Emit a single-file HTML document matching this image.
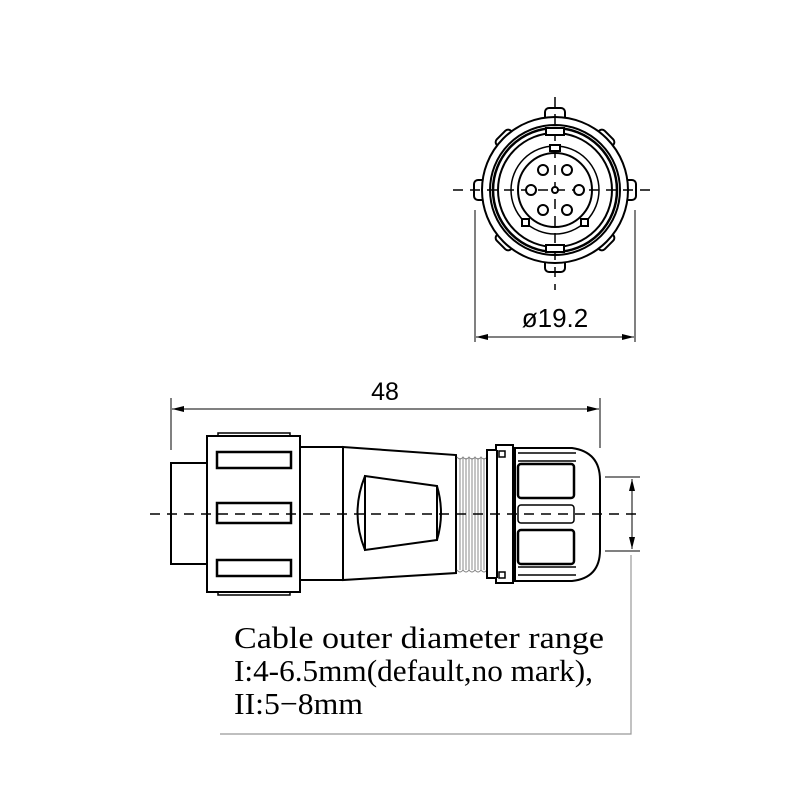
<!DOCTYPE html>
<html><head><meta charset="utf-8"><style>html,body{margin:0;padding:0;background:#fff}svg{display:block}</style></head>
<body>
<svg width="800" height="800" viewBox="0 0 800 800" xmlns="http://www.w3.org/2000/svg">
<defs>
<marker id="ar" viewBox="0 0 12 6" refX="12" refY="3" markerWidth="12" markerHeight="6" orient="auto-start-reverse" markerUnits="userSpaceOnUse"><path d="M0,0 L12,3 L0,6 Z" fill="#000"/></marker>
</defs>
<g fill="none" stroke="#000" stroke-width="2">
<!-- top view -->
<g fill="#fff">
<rect x="545" y="108" width="20" height="14" rx="4"/>
<rect x="545" y="258" width="20" height="14" rx="4"/>
<rect x="474" y="180" width="14" height="20" rx="4"/>
<rect x="622" y="180" width="14" height="20" rx="4"/>
<rect x="496" y="133" width="20" height="14" rx="4" transform="rotate(-45 506 140)"/>
<rect x="594" y="133" width="20" height="14" rx="4" transform="rotate(45 604 140)"/>
<rect x="496" y="233" width="20" height="14" rx="4" transform="rotate(45 506 240)"/>
<rect x="594" y="233" width="20" height="14" rx="4" transform="rotate(-45 604 240)"/>
</g>
<circle cx="555" cy="190" r="73" fill="#fff"/>
<circle cx="555" cy="190" r="65"/>
<circle cx="555" cy="190" r="62" stroke-width="2.5"/>
<circle cx="555" cy="190" r="57"/>
<circle cx="555" cy="190" r="44" stroke-width="1.5"/>
<circle cx="555" cy="190" r="37"/>
<line x1="555" y1="97" x2="555" y2="290" stroke-width="1.5" stroke-dasharray="10,7"/>
<line x1="453" y1="190" x2="650" y2="190" stroke-width="1.5" stroke-dasharray="10,7"/>
<rect x="546" y="128" width="18" height="7" fill="#fff"/>
<rect x="546" y="245" width="18" height="7" fill="#fff"/>
<rect x="550" y="145" width="10" height="6" fill="#fff"/>
<rect x="522" y="219" width="7" height="7" fill="#fff"/>
<rect x="581" y="219" width="7" height="7" fill="#fff"/>
<circle cx="543" cy="170" r="5" fill="#fff"/><circle cx="567" cy="170" r="5" fill="#fff"/>
<circle cx="531" cy="190" r="5" fill="#fff"/><circle cx="579" cy="190" r="5" fill="#fff"/>
<circle cx="543" cy="210" r="5" fill="#fff"/><circle cx="567" cy="210" r="5" fill="#fff"/>
<circle cx="555" cy="190" r="3" fill="#fff"/>
<line x1="475" y1="210" x2="475" y2="342" stroke-width="1"/>
<line x1="635" y1="210" x2="635" y2="342" stroke-width="1"/>
<line x1="476" y1="337" x2="634" y2="337" stroke-width="1" marker-start="url(#ar)" marker-end="url(#ar)"/>

<!-- side view dims -->
<line x1="171" y1="398" x2="171" y2="450" stroke-width="1"/>
<line x1="600" y1="398" x2="600" y2="448" stroke-width="1"/>
<line x1="172" y1="409" x2="599" y2="409" stroke-width="1" marker-start="url(#ar)" marker-end="url(#ar)"/>

<!-- front cap -->
<rect x="171" y="463" width="36" height="101" fill="#fff"/>
<rect x="218" y="433" width="72" height="4" fill="#fff" stroke-width="1.5"/>
<rect x="218" y="591" width="72" height="4" fill="#fff" stroke-width="1.5"/>
<rect x="207" y="436" width="93" height="156" fill="#fff"/>
<rect x="217" y="452" width="74" height="16" stroke-width="2.5"/>
<rect x="217" y="503" width="74" height="20" stroke-width="2.5"/>
<rect x="217" y="560" width="74" height="16" stroke-width="2.5"/>
<!-- body -->
<rect x="300" y="447" width="43" height="133" fill="#fff"/>
<path d="M343,447 L456,455 L456,573 L343,580 Z" fill="#fff"/>
<path d="M365,476 L437,486 L437,540 L365,550 Z" fill="#fff"/>
<path d="M365,476 Q350,513 365,550"/>
<path d="M437,486 Q445,513 437,540"/>
<!-- thread -->
<g stroke="#888" stroke-width="1">
<path d="M457,457 q3,4 6,0 q3,4 6,0 q3,4 6,0 q3,4 6,0 q3,4 6,0"/>
<path d="M460,458 L460,570 M466,458 L466,570 M472,458 L472,570 M478,458 L478,570 M484,458 L484,570"/>
<path d="M457,570 q3,4 6,0 q3,4 6,0 q3,4 6,0 q3,4 6,0 q3,4 6,0"/>
<path d="M463,458 L463,570 M469,458 L469,570 M475,458 L475,570 M481,458 L481,570"/>
</g>
<!-- gland -->
<path d="M515,448 L572,448 Q600,452 600,480 L600,550 Q600,578 572,581 L515,581 Z" fill="#fff"/>
<path d="M487,450 L496,450 L496,445 L513,445 L513,583 L496,583 L496,578 L487,578 Z" fill="#fff"/>
<line x1="497" y1="450" x2="497" y2="578"/>
<rect x="499" y="451" width="6" height="6" stroke-width="1.5"/>
<rect x="499" y="572" width="6" height="6" stroke-width="1.5"/>
<path d="M518,453 L576,453 M518,461 L576,461 M518,567 L576,567 M518,575 L576,575" stroke-width="1.5"/>
<rect x="518" y="464" width="56" height="34" rx="3" stroke-width="2.5"/>
<rect x="518" y="530" width="56" height="34" rx="3" stroke-width="2.5"/>
<rect x="518" y="505" width="56" height="18" rx="3" stroke-width="1.5"/>
<!-- diameter dim -->
<line x1="605" y1="477" x2="640" y2="477" stroke-width="1"/>
<line x1="605" y1="551" x2="640" y2="551" stroke-width="1"/>
<line x1="632" y1="479" x2="632" y2="549" stroke-width="1" marker-start="url(#ar)" marker-end="url(#ar)"/>
<!-- box -->
<path d="M631,555 L631,734 L220,734" stroke="#999" stroke-width="1.2"/>
<!-- centerline -->
<line x1="150" y1="514" x2="640" y2="514" stroke-width="1.5" stroke-dasharray="10,7"/>
</g>
<g font-family="'Liberation Sans',sans-serif" fill="#000">
<text x="555" y="327" font-size="26" text-anchor="middle">ø19.2</text>
<text x="385" y="400" font-size="25" text-anchor="middle">48</text>
</g>
<g font-family="'Liberation Serif',serif" font-size="31" fill="#000">
<text x="234" y="648" textLength="370" lengthAdjust="spacingAndGlyphs">Cable outer  diameter range</text>
<text x="234" y="681" textLength="359" lengthAdjust="spacingAndGlyphs">I:4-6.5mm(default,no mark),</text>
<text x="234" y="714" textLength="129" lengthAdjust="spacingAndGlyphs">II:5−8mm</text>
</g>
</svg>
</body></html>
